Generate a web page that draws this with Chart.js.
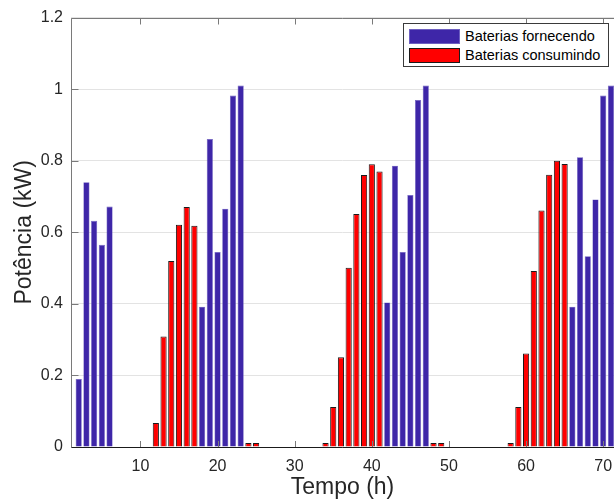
<!DOCTYPE html>
<html>
<head>
<meta charset="utf-8">
<script src="https://cdn.jsdelivr.net/npm/chart.js@4/dist/chart.umd.min.js"></script>
<style>
  html, body { margin: 0; padding: 0; background: #fff; }
  #wrap { position: relative; width: 614px; height: 501px; overflow: hidden; }
  #legend {
    position: absolute; left: 403px; top: 23px; width: 204px; height: 42px;
    border: 1px solid #3a3a3a; background: #fff;
    font-family: "Liberation Sans", Arial, sans-serif; font-size: 14.5px; color: #000;
  }
  #legend .row { position: absolute; left: 5px; height: 15px; line-height: 15px; white-space: nowrap; }
  #legend .sw { display: inline-block; width: 49px; height: 13px; vertical-align: top; margin-right: 5px; }
</style>
</head>
<body>
<div id="wrap">
  <canvas id="myChart" width="614" height="501"></canvas>
  <div id="legend"></div>
</div>
<script>
// hora do dia (h)
var hours = [1, 2, 3, 4, 5, 6, 7, 8, 9, 10, 11, 12, 13, 14, 15, 16, 17, 18, 19, 20,
    21, 22, 23, 24, 25, 26, 27, 28, 29, 30, 31, 32, 33, 34, 35, 36, 37, 38, 39, 40,
    41, 42, 43, 44, 45, 46, 47, 48, 49, 50, 51, 52, 53, 54, 55, 56, 57, 58, 59, 60,
    61, 62, 63, 64, 65, 66, 67, 68, 69, 70, 71];

// baterias fornecendo (kW)
var fornecendo = [0, 0.19, 0.74, 0.632, 0.565, 0.672, 0, 0, 0, 0, 0, 0, 0, 0, 0, 0, 0, 0.392, 0.861, 0.545,
    0.666, 0.982, 1.01, 0, 0, 0, 0, 0, 0, 0, 0, 0, 0, 0, 0, 0, 0, 0, 0, 0,
    0, 0.404, 0.786, 0.545, 0.704, 0.97, 1.01, 0, 0, 0, 0, 0, 0, 0, 0, 0, 0, 0, 0, 0,
    0, 0, 0, 0, 0, 0.392, 0.81, 0.533, 0.692, 0.982, 1.01];

// baterias consumindo (kW)
var consumindo = [0, 0, 0, 0, 0, 0, 0, 0, 0, 0, 0, 0.067, 0.309, 0.52, 0.621, 0.671, 0.618, 0, 0, 0,
    0, 0, 0, 0.011, 0.011, 0, 0, 0, 0, 0, 0, 0, 0, 0.011, 0.112, 0.251, 0.501, 0.651, 0.76, 0.79,
    0.77, 0, 0, 0, 0, 0, 0, 0.011, 0.011, 0, 0, 0, 0, 0, 0, 0, 0, 0.011, 0.112, 0.261,
    0.492, 0.661, 0.761, 0.8, 0.791, 0, 0, 0, 0, 0, 0];

var xTicks = [10, 20, 30, 40, 50, 60, 70];
var yTicks = [0, 0.2, 0.4, 0.6, 0.8, 1, 1.2];

var FONT = '"Liberation Sans", Arial, sans-serif';
var AXIS = '#7a7a7a';

function toPoints(vals) {
    return hours.map(function (h, i) { return { x: h, y: vals[i] === 0 ? null : vals[i] }; });
}

// moldura, ticks para dentro e linha de base
var framePlugin = {
    id: 'frame',
    afterDatasetsDraw: function (chart) {
        var ctx = chart.ctx, a = chart.chartArea;
        var xs = chart.scales.x, ys = chart.scales.y;
        var L = Math.round(a.left) + 0.5, T = Math.round(a.top) + 0.5;
        ctx.save();
        ctx.strokeStyle = AXIS;
        ctx.lineWidth = 1;
        ctx.beginPath();
        ctx.moveTo(L, a.bottom);
        ctx.lineTo(L, T);
        ctx.lineTo(a.right, T);
        xTicks.forEach(function (t) {
            var px = Math.round(xs.getPixelForValue(t)) + 0.5;
            ctx.moveTo(px, a.bottom); ctx.lineTo(px, a.bottom - 6);
            ctx.moveTo(px, T); ctx.lineTo(px, T + 6);
        });
        yTicks.forEach(function (t) {
            var py = Math.round(ys.getPixelForValue(t)) + 0.5;
            ctx.moveTo(L, py); ctx.lineTo(L + 7, py);
        });
        ctx.stroke();
        var y0 = Math.round(ys.getPixelForValue(0)) + 0.5;
        ctx.strokeStyle = '#1a1a1a';
        ctx.beginPath();
        ctx.moveTo(L, y0); ctx.lineTo(a.right, y0);
        ctx.stroke();
        ctx.restore();
    }
};

function renderChart() {
    var ctx = document.getElementById('myChart').getContext('2d');
    var myChart = new Chart(ctx, {
        type: 'bar',
        data: {
            datasets: [{
                label: 'Baterias fornecendo',
                data: toPoints(fornecendo),
                backgroundColor: '#3e26a8',
                borderColor: '#6d5fc0',
                borderWidth: 0.6
            }, {
                label: 'Baterias consumindo',
                data: toPoints(consumindo),
                backgroundColor: '#ff0000',
                borderColor: '#1a1a1a',
                borderWidth: 1
            }]
        },
        options: {
            responsive: false,
            animation: false,
            grouped: false,
            barPercentage: 0.8,
            categoryPercentage: 1,
            layout: { padding: { top: 15, right: 0, left: 0, bottom: 0 } },
            plugins: { legend: { display: false }, tooltip: { enabled: false } },
            scales: {
                x: {
                    type: 'linear',
                    offset: false,
                    min: 1,
                    max: 71.4,
                    afterBuildTicks: function (s) { s.ticks = xTicks.map(function (v) { return { value: v }; }); },
                    afterFit: function (s) { s.height = 54; s.paddingLeft = 0; s.paddingRight = 0; },
                    grid: { display: false, drawTicks: false },
                    border: { display: false },
                    ticks: { color: '#262626', font: { family: FONT, size: 16 }, padding: 10, maxRotation: 0 },
                    title: { display: true, text: 'Tempo (h)', color: '#262626',
                             font: { family: FONT, size: 23 }, padding: { top: 0, bottom: 0 } }
                },
                y: {
                    min: 0,
                    max: 1.2,
                    afterBuildTicks: function (s) { s.ticks = yTicks.map(function (v) { return { value: v }; }); },
                    afterFit: function (s) { s.width = 71; },
                    grid: { color: '#e3e3e3', drawTicks: false },
                    border: { display: false },
                    ticks: { color: '#262626', font: { family: FONT, size: 16 }, padding: 8,
                             callback: function (v) { return String(Math.round(v * 10) / 10); } },
                    title: { display: true, text: 'Potência (kW)', color: '#262626',
                             font: { family: FONT, size: 23 }, padding: { top: 11, bottom: 0 } }
                }
            }
        },
        plugins: [framePlugin]
    });

    var leg = document.getElementById('legend');
    myChart.data.datasets.forEach(function (ds, i) {
        var row = document.createElement('div');
        row.className = 'row';
        row.style.top = (5 + i * 19) + 'px';
        var sw = document.createElement('span');
        sw.className = 'sw';
        sw.style.background = ds.backgroundColor;
        sw.style.border = '1px solid ' + ds.borderColor;
        row.appendChild(sw);
        row.appendChild(document.createTextNode(ds.label));
        leg.appendChild(row);
    });
}

renderChart();
</script>
</body>
</html>
